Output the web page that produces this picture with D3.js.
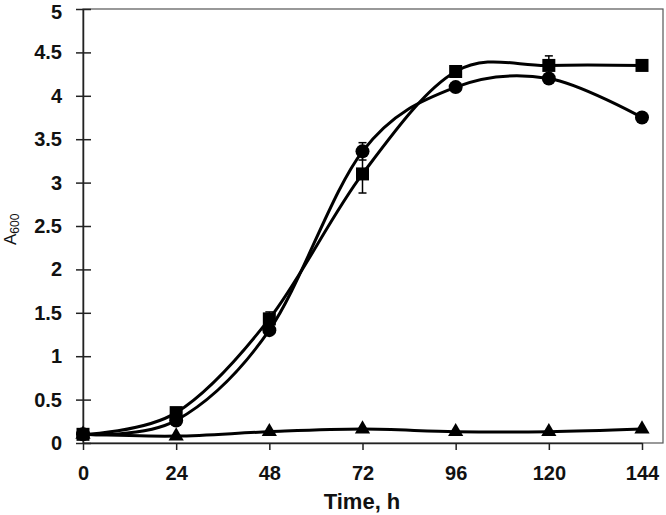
<!DOCTYPE html>
<html><head><meta charset="utf-8">
<script src="https://cdn.jsdelivr.net/npm/d3@7"></script>
<style>body{margin:0;background:#fff}svg{display:block}</style>
</head><body>
<svg id="c" width="666" height="515"></svg>
<script>
const times = [0, 24, 48, 72, 96, 120, 144];
const squares = [0.10, 0.35, 1.43, 3.10, 4.28, 4.35, 4.35];
const squareErr = [0.02, 0.02, 0.08, 0.22, 0.03, 0.11, 0.02];
const circles = [0.10, 0.26, 1.30, 3.36, 4.10, 4.20, 3.75];
const circleErr = [0.02, 0.02, 0.04, 0.10, 0.03, 0.05, 0.02];
const triangles = [0.10, 0.08, 0.13, 0.16, 0.13, 0.13, 0.16];
const xTicks = [0, 24, 48, 72, 96, 120, 144];
const yTicks = [0, 0.5, 1, 1.5, 2, 2.5, 3, 3.5, 4, 4.5, 5];

const svg = d3.select("#c");
const x = d3.scaleLinear().domain([0, 144]).range([83, 642]);
const y = d3.scaleLinear().domain([0, 5]).range([443, 9]);
const font = "'Liberation Sans', Arial, sans-serif";

// plot frame
svg.append("rect").attr("x", 83).attr("y", 9).attr("width", 580).attr("height", 434)
  .attr("fill", "none").attr("stroke", "#555").attr("stroke-width", 1.2);

// axes
const xAxis = d3.axisBottom(x).tickValues(xTicks).tickSize(7).tickSizeOuter(0).tickPadding(16);
const gx = svg.append("g").attr("transform", "translate(0,443)").call(xAxis);
gx.select(".domain").attr("stroke", "#222").attr("stroke-width", 1.5);
gx.selectAll(".tick line").attr("stroke", "#222").attr("stroke-width", 1.5);
gx.selectAll("text").attr("font-family", font).attr("font-weight", "bold").attr("font-size", 20).attr("fill", "#111");

const yAxis = d3.axisLeft(y).tickValues(yTicks).tickSize(7).tickSizeOuter(0).tickPadding(14).tickFormat(d3.format("~g"));
const gy = svg.append("g").attr("transform", "translate(83,0)").call(yAxis);
gy.select(".domain").attr("stroke", "#222").attr("stroke-width", 1.5);
gy.selectAll(".tick line").attr("x2", 8).attr("x1", -7).attr("stroke", "#222").attr("stroke-width", 1.5);
gy.selectAll("text").attr("font-family", font).attr("font-weight", "bold").attr("font-size", 20).attr("fill", "#111");
gy.selectAll(".tick text").filter(d => d === 5).attr("dy", "0.47em");

// titles
svg.append("text").attr("x", 362).attr("y", 509).attr("text-anchor", "middle")
  .attr("font-family", font).attr("font-weight", "bold").attr("font-size", 22).attr("fill", "#111")
  .text("Time, h");
const yl = svg.append("text").attr("transform", "translate(16,245) rotate(-90)")
  .attr("font-family", font).attr("font-size", 17).attr("fill", "#111");
yl.append("tspan").text("A");
yl.append("tspan").attr("font-size", 12).attr("dy", 3).text("600");

const line = d3.line().x((d, i) => x(times[i])).y(d => y(d)).curve(d3.curveCardinal.tension(0));
function series(vals) {
  svg.append("path").attr("d", line(vals)).attr("fill", "none").attr("stroke", "#000").attr("stroke-width", 3);
}
function errs(vals, e) {
  const g = svg.append("g").attr("stroke", "#000").attr("stroke-width", 1.5);
  vals.forEach((v, i) => {
    if (e[i] < 0.04) return;
    const cx = x(times[i]);
    g.append("line").attr("x1", cx).attr("x2", cx).attr("y1", y(v - e[i])).attr("y2", y(v + e[i]));
    [v - e[i], v + e[i]].forEach(w => g.append("line").attr("x1", cx - 4).attr("x2", cx + 4).attr("y1", y(w)).attr("y2", y(w)));
  });
}

series(triangles);
series(circles);
series(squares);
errs(circles, circleErr);
errs(squares, squareErr);

// markers
svg.append("g").selectAll("path").data(triangles).join("path")
  .attr("transform", (d, i) => `translate(${x(times[i])},${y(d)})`)
  .attr("d", d3.symbol(d3.symbolTriangle, 100)).attr("fill", "#000");
svg.append("g").selectAll("circle").data(circles).join("circle")
  .attr("cx", (d, i) => x(times[i])).attr("cy", d => y(d)).attr("r", 7).attr("fill", "#000");
svg.append("g").selectAll("rect").data(squares).join("rect")
  .attr("x", (d, i) => x(times[i]) - 6.5).attr("y", d => y(d) - 6.5)
  .attr("width", 13).attr("height", 13).attr("fill", "#000");
</script>
</body></html>
